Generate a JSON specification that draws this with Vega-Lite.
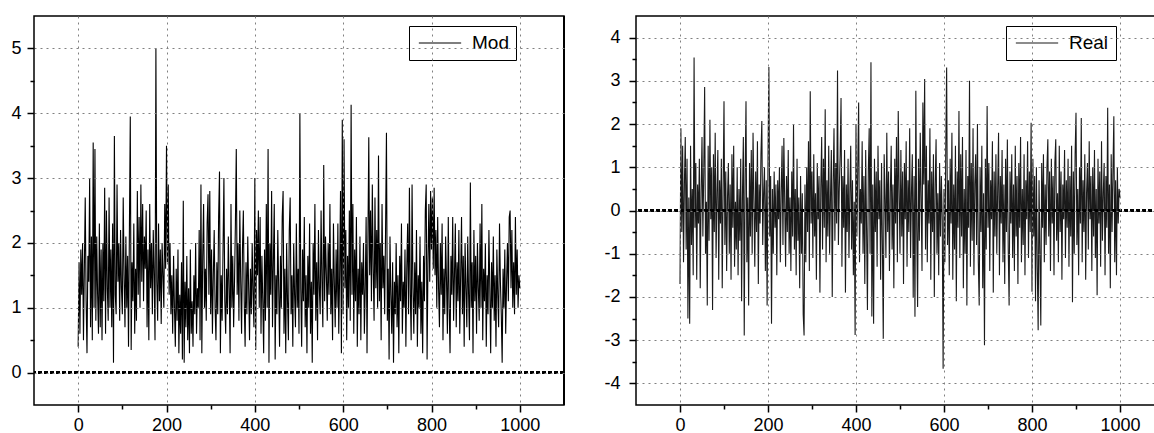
{
"$schema": "https://vega.github.io/schema/vega-lite/v6.json",
"padding": {"left": 5, "top": 14, "right": 0, "bottom": 0},
"spacing": 20,
"config": {
  "view": {"stroke": "black", "strokeWidth": 1.5},
  "font": "Liberation Sans",
  "axis": {"labelFont": "Liberation Sans", "labelFontSize": 18, "labelColor": "black", "tickColor": "black", "tickWidth": 1.5, "domain": false, "title": null, "labelFlush": false, "labelOverlap": false, "gridColor": "#808080", "gridDash": [2, 4], "gridWidth": 1},
  "legend": {"orient": "none", "title": null, "symbolType": "M-2.35,0H2.35", "symbolSize": 324, "symbolStrokeWidth": 1.2, "symbolOffset": 14, "labelFont": "Liberation Sans", "labelFontSize": 19, "labelColor": "black", "strokeColor": "black", "fillColor": "white", "padding": 7, "labelOffset": 22}
},
"datasets": {"d": [
{"x":0,"m":0.4,"r":-1.7},{"x":2,"m":1.7,"r":1.9},{"x":4,"m":0.6,"r":-0.5},{"x":6,"m":1.9,"r":1.5},{"x":8,"m":1.2,"r":-1.2},{"x":10,"m":2.0,"r":0.6},{"x":12,"m":0.5,"r":1.7},{"x":14,"m":1.6,"r":-0.9},{"x":16,"m":2.7,"r":1.2},{"x":18,"m":1.1,"r":-2.5},
{"x":20,"m":0.3,"r":0.3},{"x":22,"m":1.8,"r":-2.62},{"x":24,"m":1.4,"r":1.5},{"x":26,"m":3.0,"r":-0.8},{"x":28,"m":0.7,"r":0.5},{"x":30,"m":2.1,"r":-1.5},{"x":32,"m":0.5,"r":3.54},{"x":34,"m":3.55,"r":-0.4},{"x":36,"m":1.0,"r":1.1},{"x":38,"m":3.45,"r":-1.6},
{"x":40,"m":0.8,"r":0.6},{"x":42,"m":2.1,"r":-0.3},{"x":44,"m":1.2,"r":1.2},{"x":46,"m":0.6,"r":-1.8},{"x":48,"m":2.3,"r":0.4},{"x":50,"m":0.7,"r":1.7},{"x":52,"m":1.9,"r":-0.6},{"x":54,"m":0.5,"r":0.9},{"x":56,"m":2.0,"r":2.86},{"x":58,"m":1.1,"r":-1.0},
{"x":60,"m":2.85,"r":0.2},{"x":62,"m":0.6,"r":-2.2},{"x":64,"m":2.5,"r":1.5},{"x":66,"m":1.3,"r":-0.7},{"x":68,"m":0.8,"r":2.1},{"x":70,"m":2.7,"r":-0.2},{"x":72,"m":1.0,"r":1.0},{"x":74,"m":1.9,"r":-2.3},{"x":76,"m":0.7,"r":1.3},{"x":78,"m":2.3,"r":-0.5},
{"x":80,"m":0.15,"r":1.8},{"x":82,"m":3.65,"r":-1.1},{"x":84,"m":1.2,"r":0.4},{"x":86,"m":0.9,"r":1.4},{"x":88,"m":2.9,"r":-1.6},{"x":90,"m":1.4,"r":0.7},{"x":92,"m":2.0,"r":-0.3},{"x":94,"m":0.8,"r":1.2},{"x":96,"m":2.2,"r":-1.8},{"x":98,"m":1.3,"r":0.5},
{"x":100,"m":0.9,"r":2.53},{"x":102,"m":2.7,"r":-0.8},{"x":104,"m":1.5,"r":0.9},{"x":106,"m":0.7,"r":-1.4},{"x":108,"m":2.1,"r":0.3},{"x":110,"m":1.0,"r":1.1},{"x":112,"m":1.8,"r":-1.0},{"x":114,"m":0.4,"r":0.6},{"x":116,"m":2.2,"r":-1.6},{"x":118,"m":3.95,"r":1.3},
{"x":120,"m":0.35,"r":-0.4},{"x":122,"m":1.7,"r":1.5},{"x":124,"m":1.1,"r":-1.3},{"x":126,"m":2.3,"r":0.2},{"x":128,"m":0.6,"r":-0.9},{"x":130,"m":1.6,"r":1.0},{"x":132,"m":0.8,"r":-1.5},{"x":134,"m":2.8,"r":0.5},{"x":136,"m":1.2,"r":-0.7},{"x":138,"m":2.4,"r":1.2},
{"x":140,"m":1.0,"r":-2.1},{"x":142,"m":2.9,"r":0.4},{"x":144,"m":1.4,"r":1.7},{"x":146,"m":2.6,"r":-2.89},{"x":148,"m":1.1,"r":0.8},{"x":150,"m":2.1,"r":2.53},{"x":152,"m":1.6,"r":-1.2},{"x":154,"m":2.5,"r":0.3},{"x":156,"m":0.7,"r":-2.2},{"x":158,"m":1.9,"r":1.1},
{"x":160,"m":0.5,"r":-0.6},{"x":162,"m":2.6,"r":1.4},{"x":164,"m":1.3,"r":-1.0},{"x":166,"m":2.0,"r":1.8},{"x":168,"m":0.9,"r":0.2},{"x":170,"m":2.2,"r":-1.3},{"x":172,"m":1.5,"r":0.9},{"x":174,"m":0.5,"r":-0.5},{"x":176,"m":5.0,"r":1.6},{"x":178,"m":1.4,"r":-1.7},
{"x":180,"m":0.8,"r":0.6},{"x":182,"m":2.3,"r":-0.3},{"x":184,"m":1.1,"r":1.3},{"x":186,"m":1.9,"r":2.07},{"x":188,"m":0.75,"r":-0.8},{"x":190,"m":2.0,"r":0.4},{"x":192,"m":1.5,"r":1.0},{"x":194,"m":1.0,"r":-1.4},{"x":196,"m":2.6,"r":0.7},{"x":198,"m":1.6,"r":-2.2},
{"x":200,"m":3.5,"r":1.2},{"x":202,"m":1.7,"r":3.32},{"x":204,"m":2.9,"r":-0.6},{"x":206,"m":1.2,"r":0.8},{"x":208,"m":2.0,"r":-2.62},{"x":210,"m":0.9,"r":0.5},{"x":212,"m":1.5,"r":-1.0},{"x":214,"m":0.6,"r":0.9},{"x":216,"m":1.8,"r":-0.4},{"x":218,"m":1.0,"r":0.6},
{"x":220,"m":0.4,"r":-1.5},{"x":222,"m":1.6,"r":0.7},{"x":224,"m":0.8,"r":-0.2},{"x":226,"m":1.9,"r":1.0},{"x":228,"m":0.3,"r":-1.2},{"x":230,"m":1.2,"r":0.4},{"x":232,"m":0.6,"r":1.5},{"x":234,"m":1.7,"r":-0.8},{"x":236,"m":0.2,"r":1.68},{"x":238,"m":2.65,"r":0.2},
{"x":240,"m":0.15,"r":-1.3},{"x":242,"m":1.4,"r":0.8},{"x":244,"m":0.7,"r":-0.5},{"x":246,"m":1.8,"r":1.4},{"x":248,"m":0.5,"r":-1.0},{"x":250,"m":1.3,"r":0.3},{"x":252,"m":0.3,"r":-1.4},{"x":254,"m":1.9,"r":0.9},{"x":256,"m":0.6,"r":-0.6},{"x":258,"m":1.1,"r":2.0},
{"x":260,"m":0.4,"r":-0.9},{"x":262,"m":1.5,"r":0.5},{"x":264,"m":0.9,"r":-1.5},{"x":266,"m":2.0,"r":1.2},{"x":268,"m":0.6,"r":-0.7},{"x":270,"m":1.3,"r":0.3},{"x":272,"m":1.0,"r":-1.8},{"x":274,"m":2.2,"r":0.8},{"x":276,"m":0.5,"r":-1.0},{"x":278,"m":2.9,"r":0.4},
{"x":280,"m":0.3,"r":-2.4},{"x":282,"m":1.8,"r":-2.89},{"x":284,"m":2.6,"r":0.6},{"x":286,"m":1.0,"r":-1.2},{"x":288,"m":1.6,"r":1.0},{"x":290,"m":0.8,"r":-0.5},{"x":292,"m":2.3,"r":1.6},{"x":294,"m":2.75,"r":-1.4},{"x":296,"m":1.2,"r":2.76},{"x":298,"m":2.8,"r":-0.3},
{"x":300,"m":0.9,"r":0.9},{"x":302,"m":1.9,"r":-1.1},{"x":304,"m":0.6,"r":1.3},{"x":306,"m":1.5,"r":-0.6},{"x":308,"m":2.2,"r":0.4},{"x":310,"m":1.0,"r":-1.6},{"x":312,"m":0.5,"r":1.1},{"x":314,"m":1.7,"r":-0.2},{"x":316,"m":0.9,"r":0.8},{"x":318,"m":2.4,"r":-1.9},
{"x":320,"m":3.1,"r":0.5},{"x":322,"m":0.3,"r":1.7},{"x":324,"m":1.5,"r":-0.9},{"x":326,"m":0.8,"r":1.2},{"x":328,"m":1.9,"r":-0.4},{"x":330,"m":3.0,"r":2.34},{"x":332,"m":1.1,"r":-1.2},{"x":334,"m":0.6,"r":0.7},{"x":336,"m":1.6,"r":-0.6},{"x":338,"m":0.9,"r":1.5},
{"x":340,"m":2.1,"r":-1.0},{"x":342,"m":1.3,"r":0.3},{"x":344,"m":0.3,"r":1.4},{"x":346,"m":2.6,"r":-2.0},{"x":348,"m":1.0,"r":0.6},{"x":350,"m":1.8,"r":1.9},{"x":352,"m":0.7,"r":-0.7},{"x":354,"m":1.4,"r":1.1},{"x":356,"m":2.3,"r":-0.3},{"x":358,"m":3.45,"r":3.24},
{"x":360,"m":1.2,"r":-0.8},{"x":362,"m":2.0,"r":0.5},{"x":364,"m":0.8,"r":1.3},{"x":366,"m":2.5,"r":2.6},{"x":368,"m":1.4,"r":-1.3},{"x":370,"m":0.6,"r":0.8},{"x":372,"m":1.9,"r":-0.4},{"x":374,"m":2.5,"r":1.4},{"x":376,"m":1.1,"r":-1.9},{"x":378,"m":0.4,"r":0.6},
{"x":380,"m":1.7,"r":-0.5},{"x":382,"m":0.9,"r":1.2},{"x":384,"m":2.1,"r":-1.1},{"x":386,"m":1.3,"r":0.4},{"x":388,"m":0.5,"r":1.5},{"x":390,"m":1.6,"r":-0.9},{"x":392,"m":0.9,"r":0.7},{"x":394,"m":2.0,"r":-1.5},{"x":396,"m":1.2,"r":0.2},{"x":398,"m":0.7,"r":-2.88},
{"x":400,"m":3.0,"r":2.0},{"x":402,"m":0.35,"r":-0.6},{"x":404,"m":2.2,"r":1.0},{"x":406,"m":1.5,"r":2.5},{"x":408,"m":2.5,"r":-1.2},{"x":410,"m":1.0,"r":0.5},{"x":412,"m":2.4,"r":-0.3},{"x":414,"m":0.6,"r":1.6},{"x":416,"m":1.8,"r":-1.0},{"x":418,"m":1.1,"r":0.8},
{"x":420,"m":0.3,"r":-1.7},{"x":422,"m":1.9,"r":1.4},{"x":424,"m":0.8,"r":-0.4},{"x":426,"m":2.6,"r":-2.3},{"x":428,"m":1.0,"r":0.9},{"x":430,"m":3.45,"r":1.9},{"x":432,"m":0.15,"r":-1.0},{"x":434,"m":2.0,"r":3.43},{"x":436,"m":1.2,"r":-2.45},{"x":438,"m":2.8,"r":0.6},
{"x":440,"m":0.7,"r":-2.62},{"x":442,"m":1.7,"r":1.2},{"x":444,"m":2.6,"r":-0.5},{"x":446,"m":0.2,"r":0.9},{"x":448,"m":1.5,"r":-1.3},{"x":450,"m":0.9,"r":1.5},{"x":452,"m":2.2,"r":-0.2},{"x":454,"m":1.3,"r":0.7},{"x":456,"m":0.4,"r":-1.6},{"x":458,"m":1.8,"r":1.1},
{"x":460,"m":1.0,"r":-0.8},{"x":462,"m":2.4,"r":-2.97},{"x":464,"m":2.8,"r":1.3},{"x":466,"m":0.6,"r":0.3},{"x":468,"m":1.6,"r":-1.1},{"x":470,"m":0.3,"r":1.8},{"x":472,"m":2.0,"r":-0.5},{"x":474,"m":1.1,"r":0.9},{"x":476,"m":0.5,"r":-1.4},{"x":478,"m":2.2,"r":0.4},
{"x":480,"m":2.7,"r":1.5},{"x":482,"m":0.9,"r":-0.9},{"x":484,"m":1.5,"r":0.6},{"x":486,"m":0.4,"r":-1.8},{"x":488,"m":2.0,"r":1.2},{"x":490,"m":1.2,"r":-0.3},{"x":492,"m":0.7,"r":1.7},{"x":494,"m":2.3,"r":-1.2},{"x":496,"m":1.0,"r":2.3},{"x":498,"m":1.6,"r":0.5},
{"x":500,"m":0.6,"r":-1.0},{"x":502,"m":4.0,"r":1.4},{"x":504,"m":1.3,"r":-0.6},{"x":506,"m":0.4,"r":0.9},{"x":508,"m":1.9,"r":-1.7},{"x":510,"m":1.1,"r":1.1},{"x":512,"m":2.4,"r":-0.2},{"x":514,"m":0.7,"r":1.6},{"x":516,"m":1.5,"r":-1.3},{"x":518,"m":0.3,"r":0.7},
{"x":520,"m":1.8,"r":-0.5},{"x":522,"m":1.0,"r":1.9},{"x":524,"m":2.3,"r":-1.1},{"x":526,"m":0.6,"r":0.4},{"x":528,"m":1.4,"r":1.3},{"x":530,"m":0.15,"r":-2.0},{"x":532,"m":2.0,"r":0.8},{"x":534,"m":1.2,"r":-2.46},{"x":536,"m":2.6,"r":2.77},{"x":538,"m":0.8,"r":-0.4},
{"x":540,"m":1.7,"r":-2.23},{"x":542,"m":0.5,"r":1.2},{"x":544,"m":2.2,"r":-0.7},{"x":546,"m":1.3,"r":1.8},{"x":548,"m":0.9,"r":0.3},{"x":550,"m":2.5,"r":-1.4},{"x":552,"m":1.4,"r":2.5},{"x":554,"m":0.7,"r":0.6},{"x":556,"m":3.2,"r":3.04},{"x":558,"m":1.1,"r":-0.9},
{"x":560,"m":2.1,"r":1.5},{"x":562,"m":1.5,"r":-1.2},{"x":564,"m":0.8,"r":0.7},{"x":566,"m":2.0,"r":-0.3},{"x":568,"m":1.2,"r":1.9},{"x":570,"m":2.6,"r":-1.6},{"x":572,"m":0.9,"r":0.9},{"x":574,"m":1.6,"r":-0.5},{"x":576,"m":0.5,"r":1.3},{"x":578,"m":2.3,"r":-2.0},
{"x":580,"m":1.4,"r":0.6},{"x":582,"m":0.7,"r":1.65},{"x":584,"m":1.9,"r":-1.0},{"x":586,"m":1.0,"r":0.4},{"x":588,"m":2.3,"r":-1.5},{"x":590,"m":0.6,"r":1.1},{"x":592,"m":1.5,"r":-0.6},{"x":594,"m":2.8,"r":0.8},{"x":596,"m":0.3,"r":-0.2},{"x":598,"m":3.9,"r":-3.66},
{"x":600,"m":0.9,"r":0.5},{"x":602,"m":3.6,"r":-1.2},{"x":604,"m":1.3,"r":1.4},{"x":606,"m":2.2,"r":3.31},{"x":608,"m":0.5,"r":-0.8},{"x":610,"m":1.8,"r":0.7},{"x":612,"m":1.0,"r":-1.5},{"x":614,"m":2.5,"r":1.2},{"x":616,"m":0.8,"r":-0.3},{"x":618,"m":4.13,"r":1.8},
{"x":620,"m":1.2,"r":-1.6},{"x":622,"m":2.6,"r":0.6},{"x":624,"m":0.6,"r":-0.9},{"x":626,"m":1.9,"r":1.5},{"x":628,"m":1.1,"r":-2.1},{"x":630,"m":2.4,"r":0.9},{"x":632,"m":0.4,"r":-0.4},{"x":634,"m":1.6,"r":2.3},{"x":636,"m":0.9,"r":-1.1},{"x":638,"m":2.1,"r":1.3},
{"x":640,"m":0.5,"r":-0.6},{"x":642,"m":1.7,"r":1.7},{"x":644,"m":1.2,"r":-1.8},{"x":646,"m":2.0,"r":0.5},{"x":648,"m":0.6,"r":-1.0},{"x":650,"m":1.3,"r":1.4},{"x":652,"m":2.4,"r":-2.2},{"x":654,"m":0.3,"r":0.8},{"x":656,"m":2.0,"r":-0.4},{"x":658,"m":3.63,"r":3.0},
{"x":660,"m":1.5,"r":-1.3},{"x":662,"m":2.5,"r":1.1},{"x":664,"m":1.1,"r":-0.7},{"x":666,"m":2.9,"r":1.9},{"x":668,"m":1.6,"r":-1.5},{"x":670,"m":0.8,"r":0.6},{"x":672,"m":2.7,"r":1.3},{"x":674,"m":1.3,"r":-0.8},{"x":676,"m":2.2,"r":2.0},{"x":678,"m":1.0,"r":-1.2},
{"x":680,"m":3.35,"r":-2.2},{"x":682,"m":1.1,"r":1.0},{"x":684,"m":2.0,"r":-0.5},{"x":686,"m":0.5,"r":1.5},{"x":688,"m":2.6,"r":-1.8},{"x":690,"m":1.3,"r":0.4},{"x":692,"m":1.8,"r":-3.12},{"x":694,"m":0.9,"r":1.2},{"x":696,"m":2.2,"r":-0.9},{"x":698,"m":3.7,"r":2.42},
{"x":700,"m":0.8,"r":-0.4},{"x":702,"m":1.6,"r":1.1},{"x":704,"m":0.2,"r":-1.4},{"x":706,"m":2.1,"r":0.7},{"x":708,"m":1.2,"r":-0.2},{"x":710,"m":0.6,"r":1.6},{"x":712,"m":1.7,"r":-1.9},{"x":714,"m":0.15,"r":0.9},{"x":716,"m":1.4,"r":-0.6},{"x":718,"m":0.9,"r":1.3},
{"x":720,"m":2.0,"r":-1.0},{"x":722,"m":0.7,"r":0.5},{"x":724,"m":1.5,"r":1.8},{"x":726,"m":0.3,"r":-1.5},{"x":728,"m":1.8,"r":0.8},{"x":730,"m":1.1,"r":-0.3},{"x":732,"m":2.3,"r":1.4},{"x":734,"m":0.6,"r":-1.2},{"x":736,"m":1.4,"r":0.6},{"x":738,"m":1.0,"r":-1.7},
{"x":740,"m":1.9,"r":1.2},{"x":742,"m":0.4,"r":-0.5},{"x":744,"m":1.6,"r":1.64},{"x":746,"m":2.3,"r":-0.9},{"x":748,"m":0.9,"r":-2.2},{"x":750,"m":2.85,"r":0.9},{"x":752,"m":1.2,"r":-0.3},{"x":754,"m":0.5,"r":1.3},{"x":756,"m":2.9,"r":-1.1},{"x":758,"m":1.3,"r":0.6},
{"x":760,"m":0.6,"r":-1.4},{"x":762,"m":1.7,"r":1.5},{"x":764,"m":0.9,"r":-0.6},{"x":766,"m":2.2,"r":0.8},{"x":768,"m":0.4,"r":-1.7},{"x":770,"m":1.5,"r":1.1},{"x":772,"m":1.0,"r":-0.4},{"x":774,"m":2.1,"r":1.7},{"x":776,"m":0.6,"r":-1.2},{"x":778,"m":1.4,"r":0.5},
{"x":780,"m":0.3,"r":-0.8},{"x":782,"m":1.8,"r":1.3},{"x":784,"m":1.1,"r":-1.5},{"x":786,"m":2.5,"r":0.7},{"x":788,"m":2.9,"r":-0.2},{"x":790,"m":0.2,"r":1.6},{"x":792,"m":1.7,"r":-1.1},{"x":794,"m":2.6,"r":0.9},{"x":796,"m":1.4,"r":-0.5},{"x":798,"m":2.8,"r":2.03},
{"x":800,"m":1.9,"r":-1.88},{"x":802,"m":2.7,"r":1.2},{"x":804,"m":1.6,"r":-0.6},{"x":806,"m":2.85,"r":0.8},{"x":808,"m":1.5,"r":-2.1},{"x":810,"m":2.2,"r":1.0},{"x":812,"m":1.0,"r":-1.3},{"x":814,"m":2.4,"r":-2.77},{"x":816,"m":1.3,"r":0.7},{"x":818,"m":0.7,"r":-1.0},
{"x":820,"m":2.0,"r":-2.66},{"x":822,"m":1.2,"r":1.1},{"x":824,"m":2.3,"r":-0.4},{"x":826,"m":0.5,"r":1.3},{"x":828,"m":1.6,"r":-1.2},{"x":830,"m":0.9,"r":0.6},{"x":832,"m":2.1,"r":-0.8},{"x":834,"m":1.4,"r":1.0},{"x":836,"m":0.6,"r":1.65},{"x":838,"m":2.4,"r":-0.6},
{"x":840,"m":1.0,"r":0.9},{"x":842,"m":0.3,"r":-1.4},{"x":844,"m":1.8,"r":1.2},{"x":846,"m":1.2,"r":-0.3},{"x":848,"m":2.4,"r":0.8},{"x":850,"m":0.8,"r":-1.5},{"x":852,"m":1.5,"r":1.1},{"x":854,"m":2.3,"r":1.65},{"x":856,"m":0.7,"r":-0.7},{"x":858,"m":1.7,"r":0.4},
{"x":860,"m":1.1,"r":-1.2},{"x":862,"m":2.2,"r":1.5},{"x":864,"m":0.6,"r":-0.5},{"x":866,"m":1.5,"r":0.9},{"x":868,"m":2.4,"r":-1.6},{"x":870,"m":0.9,"r":0.6},{"x":872,"m":1.8,"r":-0.2},{"x":874,"m":0.4,"r":1.4},{"x":876,"m":2.0,"r":-1.1},{"x":878,"m":1.3,"r":0.7},
{"x":880,"m":0.7,"r":-0.4},{"x":882,"m":2.1,"r":1.2},{"x":884,"m":1.2,"r":-1.3},{"x":886,"m":0.5,"r":0.8},{"x":888,"m":2.93,"r":-0.6},{"x":890,"m":1.0,"r":1.5},{"x":892,"m":1.7,"r":-2.12},{"x":894,"m":0.3,"r":0.9},{"x":896,"m":2.2,"r":-1.0},{"x":898,"m":1.1,"r":1.3},
{"x":900,"m":1.8,"r":2.26},{"x":902,"m":0.6,"r":-0.8},{"x":904,"m":2.0,"r":0.5},{"x":906,"m":1.3,"r":-1.5},{"x":908,"m":0.8,"r":1.0},{"x":910,"m":2.3,"r":-0.3},{"x":912,"m":1.0,"r":2.14},{"x":914,"m":2.6,"r":-1.2},{"x":916,"m":0.5,"r":0.7},{"x":918,"m":1.6,"r":-0.5},
{"x":920,"m":1.1,"r":1.3},{"x":922,"m":2.0,"r":-1.6},{"x":924,"m":0.4,"r":0.4},{"x":926,"m":1.5,"r":1.1},{"x":928,"m":0.9,"r":-0.9},{"x":930,"m":2.2,"r":1.6},{"x":932,"m":1.3,"r":-0.2},{"x":934,"m":0.3,"r":0.8},{"x":936,"m":1.7,"r":-1.4},{"x":938,"m":1.0,"r":1.0},
{"x":940,"m":2.1,"r":-0.6},{"x":942,"m":0.8,"r":1.4},{"x":944,"m":1.5,"r":-1.1},{"x":946,"m":0.4,"r":0.5},{"x":948,"m":1.9,"r":-1.96},{"x":950,"m":1.2,"r":1.2},{"x":952,"m":0.7,"r":-0.3},{"x":954,"m":2.3,"r":0.9},{"x":956,"m":1.4,"r":-1.3},{"x":958,"m":0.9,"r":1.6},
{"x":960,"m":0.15,"r":-0.7},{"x":962,"m":1.6,"r":0.4},{"x":964,"m":1.0,"r":1.1},{"x":966,"m":1.9,"r":-1.5},{"x":968,"m":0.6,"r":0.8},{"x":970,"m":1.4,"r":-0.4},{"x":972,"m":2.0,"r":2.38},{"x":974,"m":1.1,"r":-1.0},{"x":976,"m":2.4,"r":0.6},{"x":978,"m":2.5,"r":-1.8},
{"x":980,"m":1.3,"r":1.3},{"x":982,"m":2.2,"r":-0.5},{"x":984,"m":1.0,"r":0.9},{"x":986,"m":1.7,"r":2.18},{"x":988,"m":0.9,"r":-1.2},{"x":990,"m":2.4,"r":0.7},{"x":992,"m":1.2,"r":-1.5},{"x":994,"m":1.9,"r":1.0},{"x":996,"m":1.0,"r":-0.3},{"x":998,"m":1.5,"r":0.5},
{"x":1000,"m":1.3,"r":0.3}
]},
"hconcat": [
  {
    "width": 530, "height": 389,
    "data": {"name": "d"},
    "layer": [
      {"mark": {"type": "line", "strokeWidth": 1.1},
       "encoding": {
         "x": {"field": "x", "type": "quantitative", "scale": {"domain": [-100, 1100], "nice": false, "zero": false}, "axis": {"values": [0, 200, 400, 600, 800, 1000], "labelExpr": "'' + datum.value", "grid": true, "tickSize": 7, "labelPadding": 4, "zindex": 1}},
         "y": {"field": "m", "type": "quantitative", "scale": {"domain": [-0.5, 5.5], "nice": false, "zero": false}, "axis": {"values": [0, 1, 2, 3, 4, 5], "grid": true, "tickSize": 7, "labelPadding": 6, "minExtent": 28, "maxExtent": 28, "zindex": 1}},
         "color": {"datum": "Mod", "type": "nominal", "scale": {"range": ["#000000"]}, "legend": {"legendX": 375, "legendY": 10}}
       }},
      {"mark": {"type": "rule", "color": "black", "strokeWidth": 1.5, "strokeDash": [4, 2]},
       "encoding": {"y": {"datum": 0, "type": "quantitative", "axis": {"orient": "left", "values": [0.5, 1.5, 2.5, 3.5, 4.5], "labels": false, "grid": false, "tickSize": 4, "minExtent": 0, "maxExtent": 0}}}},
      {"mark": {"type": "rule", "color": "black", "strokeWidth": 1.5},
       "encoding": {"x": {"datum": 1100, "type": "quantitative", "axis": {"orient": "bottom", "values": [100, 300, 500, 700, 900], "labels": false, "grid": false, "tickSize": 4}}}}
    ],
    "resolve": {"axis": {"x": "independent", "y": "independent"}}
  },
  {
    "width": 528, "height": 389,
    "data": {"name": "d"},
    "layer": [
      {"mark": {"type": "line", "strokeWidth": 1.1},
       "encoding": {
         "x": {"field": "x", "type": "quantitative", "scale": {"domain": [-100, 1100], "nice": false, "zero": false}, "axis": {"values": [0, 200, 400, 600, 800, 1000], "labelExpr": "'' + datum.value", "grid": true, "tickSize": 7, "labelPadding": 4, "zindex": 1}},
         "y": {"field": "r", "type": "quantitative", "scale": {"domain": [-4.5, 4.5], "nice": false, "zero": false}, "axis": {"values": [-4, -3, -2, -1, 0, 1, 2, 3, 4], "labelExpr": "'' + datum.value", "grid": true, "tickSize": 7, "labelPadding": 9, "minExtent": 49, "maxExtent": 49, "zindex": 1}},
         "color": {"datum": "Real", "type": "nominal", "scale": {"range": ["#1a1a1a"]}, "legend": {"legendX": 370, "legendY": 10, "symbolStrokeColor": "#808080"}}
       }},
      {"mark": {"type": "rule", "color": "black", "strokeWidth": 1.5, "strokeDash": [4, 2]},
       "encoding": {"y": {"datum": 0, "type": "quantitative", "axis": {"orient": "left", "values": [-3.5, -2.5, -1.5, -0.5, 0.5, 1.5, 2.5, 3.5], "labels": false, "grid": false, "tickSize": 4, "minExtent": 0, "maxExtent": 0}}}},
      {"mark": {"type": "rule", "color": "black", "strokeWidth": 1.5},
       "encoding": {"x": {"datum": 1100, "type": "quantitative", "axis": {"orient": "bottom", "values": [100, 300, 500, 700, 900], "labels": false, "grid": false, "tickSize": 4}}}}
    ],
    "resolve": {"axis": {"x": "independent", "y": "independent"}}
  }
],
"resolve": {"scale": {"color": "independent", "x": "independent", "y": "independent"}, "legend": {"color": "independent"}}
}
